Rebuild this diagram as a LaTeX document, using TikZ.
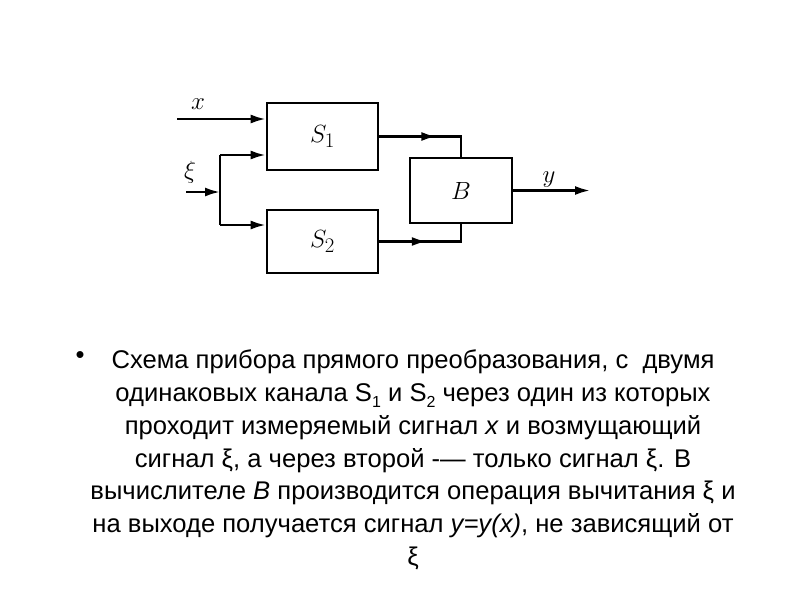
\documentclass[tikz,border=0pt]{standalone}
\usepackage{fontspec}
\newfontfamily\slidefont{Liberation Sans}
\usetikzlibrary{arrows.meta,decorations.markings}
\newcommand\bodytext{\slidefont\fontsize{25.6}{32.7}\selectfont}
\newcommand\lowidx[1]{\raisebox{-0.45ex}{\fontsize{16}{16}\selectfont #1}}
\tikzset{
  blockbox/.style={draw, line width=2.6pt, inner sep=0pt, font=\fontsize{28}{30}\selectfont},
  wire/.style={line width=2.4pt},
  headarrow/.style={-{Latex[length=15pt,width=9pt]}},
  midarrow/.style={postaction={decorate}, decoration={markings,
      mark=at position #1 with {\arrow{Latex[length=15pt,width=9pt]}}}},
  siglabel/.style={font=\fontsize{28}{30}\selectfont, inner sep=0pt}
}
\begin{document}
\begin{tikzpicture}[x=1pt,y=-1pt]
  \useasboundingbox (0,0) rectangle (800,600);

  % Channels and computing block
  \node[blockbox, minimum width=111pt, minimum height=67pt] (S1) at (322.5,136.5) {$S_1$};
  \node[blockbox, minimum width=111pt, minimum height=63pt] (S2) at (322.5,241.5) {$S_2$};
  \node[blockbox, minimum width=102pt, minimum height=65pt] (B) at (461,190.5) {$B$};

  % Free ends and branch point
  \coordinate (xin) at (177,119);
  \coordinate (xiin) at (186,192);
  \coordinate (split) at (220,192);
  \coordinate (up) at (220,155);
  \coordinate (down) at (220,225);
  \coordinate (yout) at (590,190.5);

  % Inputs
  \draw[wire, headarrow] (xin) -- (xin -| S1.west);
  \draw[wire, headarrow] (xiin) -- (split);
  \draw[wire] (up) -- (down);
  \draw[wire, headarrow] (up) -- (up -| S1.west);
  \draw[wire, headarrow] (down) -- (down -| S2.west);

  % Channels into B, and output
  \draw[wire, midarrow=0.56] (S1.east) -| (B.north);
  \draw[wire, midarrow=0.48] (S2.east) -| (B.south);
  \draw[wire, headarrow] (B.east) -- (yout);

  % Signal names
  \node[siglabel] (xlab) at (198,104) {$x$};
  \node[siglabel] (xilab) at (190,172) {$\xi$};
  \node[siglabel] (ylab) at (549,180) {$y$};

  % Caption
  \node[inner sep=0pt] (bullet) at (80,358) {\bodytext •};
  \node[anchor=north, align=center, font=\bodytext, inner sep=0pt] (caption) at (413,350) {%
    Схема прибора прямого преобразования, с\ \ двумя\\
    одинаковых канала S\lowidx{1} и S\lowidx{2} через один из которых\\
    проходит измеряемый сигнал \textit{x} и возмущающий\\
    сигнал ξ, а через второй -— только сигнал ξ. В\\
    вычислителе \textit{B} производится операция вычитания ξ и\\
    на выходе получается сигнал \textit{y=y(x)}, не зависящий от\\
    ξ};
\end{tikzpicture}
\end{document}
